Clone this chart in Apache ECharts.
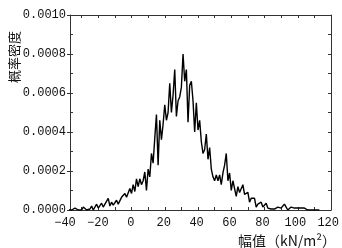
<!DOCTYPE html>
<html><head><meta charset="utf-8">
<script src="https://cdn.jsdelivr.net/npm/echarts@6/dist/echarts.min.js"></script>
<style>html,body{margin:0;padding:0;background:#fff}#c{width:342px;height:248px}</style>
</head><body><div id="c"></div>
<script>
// bin centres (kN/m^2)
const binCentres = [
 -38,-37,-36,-35,-34,-33,-32,-31,-30,-29,-28,-27,-26,-25,-24,-23,-22,-21,-20,-19,
 -18,-17,-16,-15,-14,-13,-12,-11,-10,-9,-8,-7,-6,-5,-4,-3,-2,-1,0,1,
 2,3,4,5,6,7,8,9,10,11,12,13,14,15,16,17,18,19,20,21,
 22,23,24,25,26,27,28,29,30,31,32,33,34,35,36,37,38,39,40,41,
 42,43,44,45,46,47,48,49,50,51,52,53,54,55,56,57,58,59,60,61,
 62,63,64,65,66,67,68,69,70,71,72,73,74,75,76,77,78,79,80,81,
 82,83,84,85,86,87,88,89,90,91,92,93,94,95,96,97,98,99,100,101,
 102,103,104,105,106,107,108,109,110,111,112,113
];
// probability density
const density = [
 0,0,0,0,0.00001,0,0,0,0,0.000015,0.000005,0,0,0.000005,0.00002,0,0.00001,0.00003,0.00001,0.00002,
 0.000035,0.000015,0.00003,0.00004,0.00006,0.00002,0.00004,0.000025,0.000035,0.00005,0.00003,0.00003,0.000065,0.000055,0.000085,0.000065,0.00007,0.00011,0.000085,0.00013,
 0.000095,0.00016,0.00012,0.00016,0.00013,0.00015,0.000195,0.0001,0.00021,0.00017,0.00029,0.00024,0.00037,0.00049,0.00023,0.00046,0.00036,0.00044,0.00054,0.00046,
 0.0005,0.00065,0.0005,0.00059,0.00072,0.00048,0.00056,0.00058,0.00063,0.0008,0.00066,0.00072,0.00045,0.00064,0.00066,0.00056,0.0004,0.00055,0.00041,0.00046,
 0.00035,0.00029,0.00031,0.00039,0.00026,0.00032,0.00021,0.00017,0.00015,0.00018,0.00015,0.00018,0.00013,0.00019,0.00023,0.00029,0.00015,0.00019,0.0001,0.00015,
 0.00014,0.00007,0.00012,0.00009,0.00009,0.00013,0.00008,0.00007,0.00009,0.00004,0.00006,0.00005,0.00006,0.000015,0.00003,0.000035,0.00004,0.000015,0.00002,0.000035,
 0.00001,0.000015,0.000005,0.00001,0.000005,0.00001,0.000015,0.000005,0.00001,0.00002,0.00003,0.000015,0,0.00001,0.000015,0.000005,0.00001,0,0.00001,0.000005,
 0.00001,0,0.00001,0.000005,0,0,0,0,0,0.00001,0,0
];
const xTickValues = [-30,-20,-10,0,10,20,30,40,50,60,70,80,90,100,110,120];
const xLabelValues = [-40,-20,0,20,40,60,80,100,120];
const yLabelValues = [0,0.0002,0.0004,0.0006,0.0008,0.001];

const monoFont = '"Liberation Mono", monospace';
const axisCol = '#333';
const tickLine = {color: axisCol, width: 1};

const chart = echarts.init(document.getElementById('c'), null, {renderer: 'canvas'});
chart.setOption({
  animation: false,
  backgroundColor: '#fff',
  grid: [
    {left: 70, right: 11, top: 15, bottom: 38, show: false},
    {left: 65, right: 11, top: 15, bottom: 38, show: false}
  ],
  xAxis: [
    {type: 'value', gridIndex: 0, min: -37, max: 120, position: 'bottom',
     axisLine: {show: true, onZero: false, lineStyle: tickLine},
     axisTick: {show: true, inside: true, length: 3, lineStyle: tickLine, customValues: xTickValues},
     axisLabel: {show: false}, splitLine: {show: false}},
    {type: 'value', gridIndex: 0, min: -37, max: 120, position: 'top',
     axisLine: {show: true, onZero: false, lineStyle: tickLine},
     axisTick: {show: true, inside: true, length: 3, lineStyle: tickLine, customValues: xTickValues},
     axisLabel: {show: false}, splitLine: {show: false}},
    {type: 'value', gridIndex: 1, min: -40, max: 120, position: 'bottom',
     axisLine: {show: false, onZero: false}, axisTick: {show: false}, splitLine: {show: false},
     axisLabel: {show: true, customValues: xLabelValues, margin: 7, color: '#111',
       fontFamily: monoFont, fontSize: 12,
       formatter: v => (v < 0 ? '\u2212' + Math.abs(v) : String(v))}}
  ],
  yAxis: [
    {type: 'value', gridIndex: 0, min: 0, max: 0.001, position: 'left',
     axisLine: {show: true, onZero: false, lineStyle: tickLine},
     axisTick: {show: true, inside: false, length: 3, lineStyle: tickLine, customValues: yLabelValues},
     axisLabel: {show: true, customValues: yLabelValues, margin: 4, color: '#111',
       fontFamily: monoFont, fontSize: 12, formatter: v => v.toFixed(4)},
     splitLine: {show: false}},
    {type: 'value', gridIndex: 0, min: 0, max: 0.001, interval: 0.0001, position: 'left',
     axisLine: {show: false, onZero: false}, axisLabel: {show: false}, splitLine: {show: false},
     axisTick: {show: true, inside: true, length: 3, lineStyle: tickLine}},
    {type: 'value', gridIndex: 0, min: 0, max: 0.001, interval: 0.0001, position: 'right',
     axisLine: {show: true, onZero: false, lineStyle: tickLine}, axisLabel: {show: false}, splitLine: {show: false},
     axisTick: {show: true, inside: true, length: 3, lineStyle: tickLine}},
    {type: 'value', gridIndex: 1, min: 0, max: 0.001, show: false, axisLine: {onZero: false}}
  ],
  graphic: [
    {type: 'text', x: 8, y: 83, rotation: Math.PI / 2,
     style: {text: '概率密度', fill: '#111', font: '13px "Noto Sans CJK SC"'}},
    {type: 'text', x: 238, y: 234,
     style: {text: '幅值（kN/m²）', fill: '#111', font: '14px "Noto Sans CJK SC"'}}
  ],
  series: [{
    type: 'line', xAxisIndex: 0, yAxisIndex: 0,
    data: binCentres.map((x, i) => [x, density[i]]),
    showSymbol: false, symbol: 'none',
    lineStyle: {color: '#000', width: 1.4},
    clip: true
  }]
});
</script></body></html>
